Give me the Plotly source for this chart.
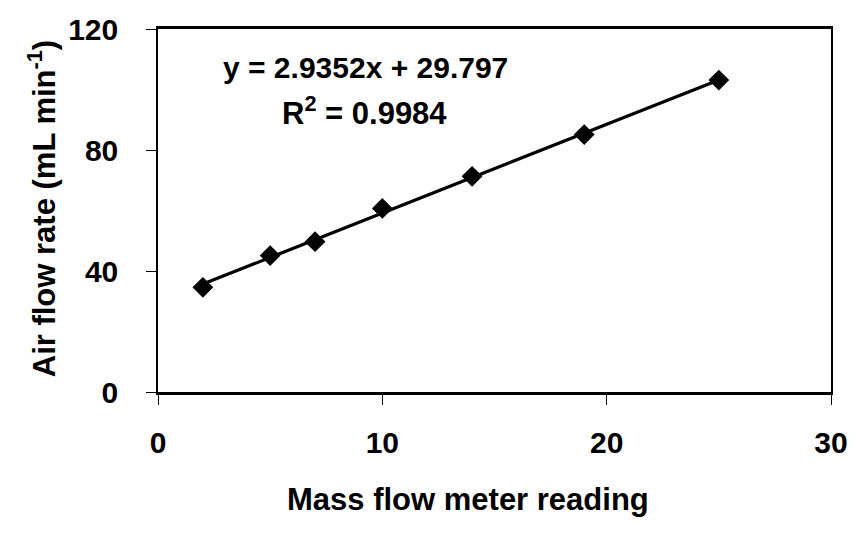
import plotly.graph_objects as go
import numpy as np

# Data
mass_flow_reading = [2, 5, 7, 10, 14, 19, 25]
air_flow_rate = [34.6, 45.1, 49.7, 60.7, 71.3, 85.1, 103.1]
slope = 2.9352
intercept = 29.797
r_squared = 0.9984
x_ticks = [0, 10, 20, 30]
y_ticks = [0, 40, 80, 120]

FONT = "Liberation Sans, Arial, sans-serif"

x_line = np.array([min(mass_flow_reading), max(mass_flow_reading)], dtype=float)
y_line = slope * x_line + intercept

fig = go.Figure()
fig.add_trace(go.Scatter(x=x_line, y=y_line, mode="lines",
                         line=dict(color="black", width=3.2), showlegend=False,
                         hoverinfo="skip"))
fig.add_trace(go.Scatter(x=mass_flow_reading, y=air_flow_rate, mode="markers",
                         marker=dict(symbol="diamond", size=16, color="black",
                                     line=dict(width=0)),
                         showlegend=False))

fig.update_layout(
    width=860, height=536,
    margin=dict(l=158, r=22, t=24, b=144),
    paper_bgcolor="white", plot_bgcolor="white",
    font=dict(family=FONT, size=30, color="black"),
)
fig.update_xaxes(range=[0, 30], tickvals=x_ticks, ticks="outside", ticklen=10,
                 tickwidth=1, tickcolor="black", showgrid=False, zeroline=False,
                 showline=True, linecolor="black", linewidth=2.5, mirror=True,
                 tickfont=dict(family=FONT, size=30, color="black", weight="bold"),
                 ticklabelstandoff=12)
fig.update_yaxes(range=[0, 120], tickvals=y_ticks, ticks="outside", ticklen=10,
                 tickwidth=1, tickcolor="black", showgrid=False, zeroline=False,
                 showline=True, linecolor="black", linewidth=1.5, mirror=True,
                 tickfont=dict(family=FONT, size=30, color="black", weight="bold"),
                 ticklabelstandoff=22)

fig.add_annotation(text="<b>Mass flow meter reading</b>", xref="paper", yref="paper",
                   x=0.461, y=-0.296, xanchor="center", yanchor="middle", showarrow=False,
                   font=dict(family=FONT, size=31, color="black"))
fig.add_annotation(text="<b>Air flow rate (mL min<sup>-1</sup>)</b>", xref="paper", yref="paper",
                   x=-0.173, y=0.505, xanchor="center", yanchor="middle", showarrow=False,
                   textangle=-90,
                   font=dict(family=FONT, size=31, color="black"))
fig.add_annotation(text=f"<b>y = {slope}x + {intercept}</b>", xref="x", yref="y",
                   x=9.25, y=107.4, xanchor="center", yanchor="middle", showarrow=False,
                   font=dict(family=FONT, size=30, color="black"))
fig.add_annotation(text=f"<b>R<sup>2</sup> = {r_squared}</b>", xref="x", yref="y",
                   x=9.2, y=92.8, xanchor="center", yanchor="middle", showarrow=False,
                   font=dict(family=FONT, size=31, color="black"))

fig.write_html("out.html")
